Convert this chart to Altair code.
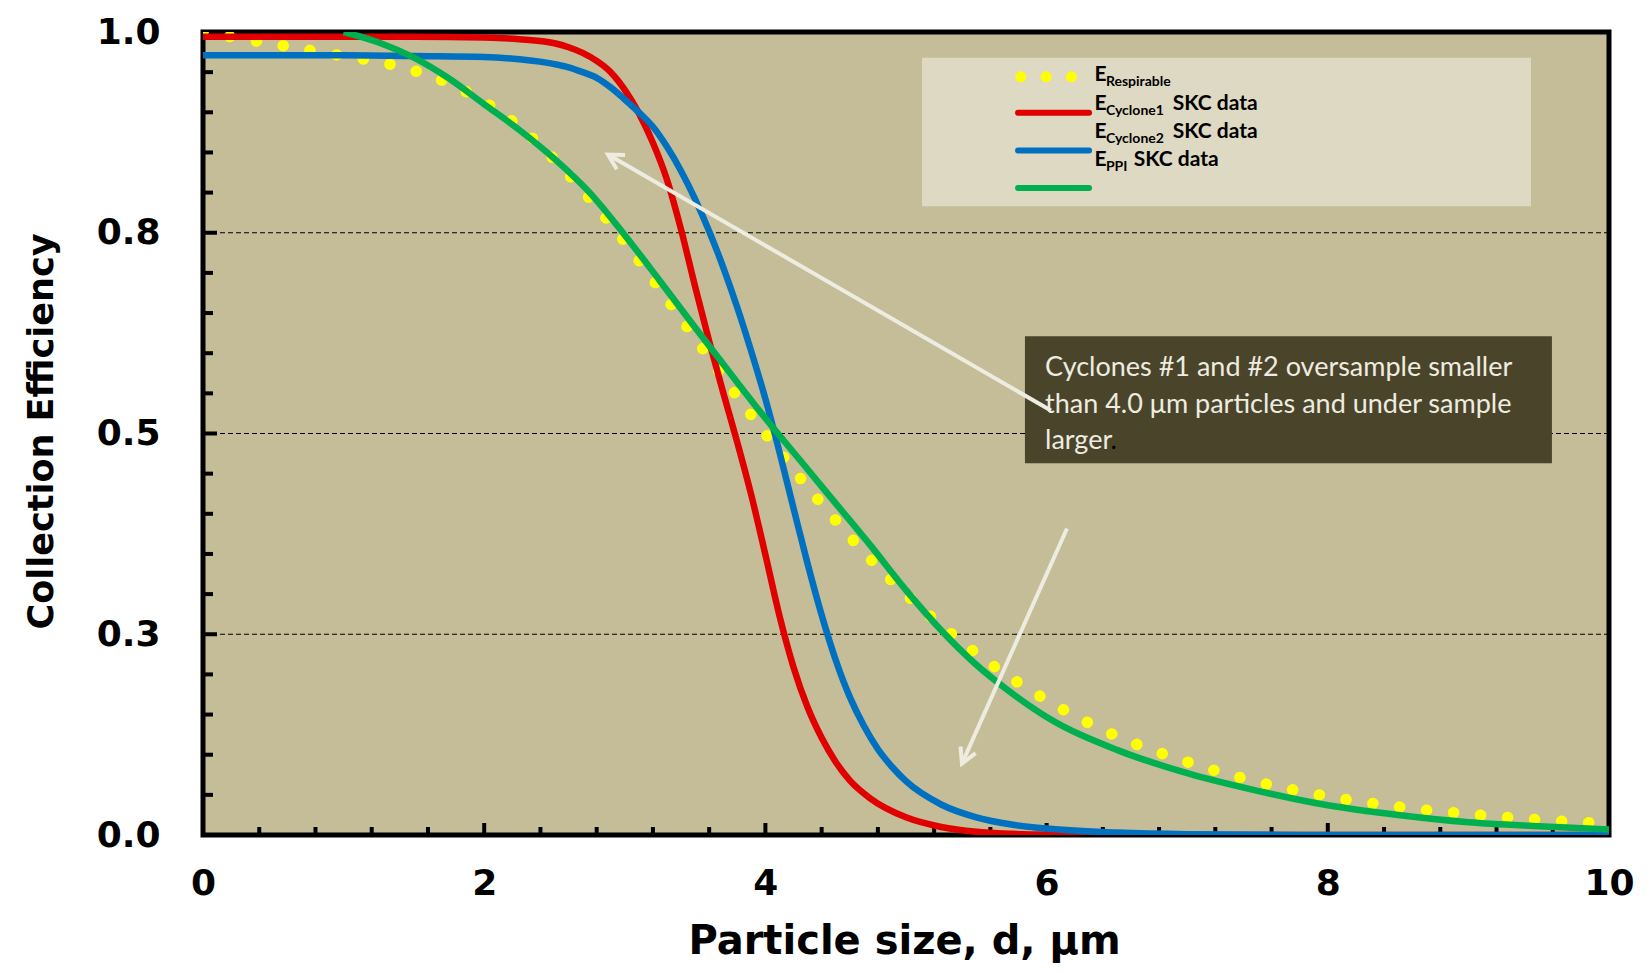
import altair as alt
import pandas as pd

# ---------------- data ----------------
resp_x = [0, 0.5, 1, 1.25, 1.5, 1.75, 2, 2.25, 2.5, 2.75, 3, 3.25, 3.5, 3.75, 4,
          4.25, 4.5, 4.75, 5, 5.5, 6, 6.5, 7, 7.5, 8, 8.5, 9, 9.5, 10]
resp_y = [1.0, 0.985, 0.970, 0.963, 0.952, 0.936, 0.913, 0.882, 0.841, 0.793, 0.739,
          0.680, 0.619, 0.558, 0.500, 0.444, 0.392, 0.343, 0.300, 0.226, 0.168, 0.123,
          0.091, 0.066, 0.048, 0.035, 0.026, 0.019, 0.014]

cyc1_x = [0, 1, 1.5, 2, 2.25, 2.5, 2.6, 2.7, 2.8, 2.9, 3.0, 3.1, 3.2, 3.3, 3.4, 3.5,
          3.6, 3.7, 3.8, 3.9, 4.0, 4.1, 4.2, 4.3, 4.4, 4.5, 4.6, 4.75, 5.0, 5.25, 5.5,
          5.75, 6, 7, 8, 10]
cyc1_y = [0.994, 0.994, 0.994, 0.993, 0.991, 0.986, 0.981, 0.974, 0.964, 0.950, 0.928,
          0.899, 0.862, 0.816, 0.754, 0.683, 0.615, 0.551, 0.489, 0.423, 0.349, 0.273,
          0.209, 0.159, 0.121, 0.091, 0.068, 0.045, 0.022, 0.010, 0.004, 0.0015, 0.0005,
          0, 0, 0]

cyc2_x = [0, 1, 1.5, 2, 2.25, 2.5, 2.6, 2.7, 2.8, 2.9, 3.0, 3.1, 3.2, 3.3, 3.4, 3.5,
          3.6, 3.7, 3.8, 3.9, 4.0, 4.1, 4.2, 4.3, 4.4, 4.5, 4.6, 4.7, 4.8, 4.9, 5.0,
          5.25, 5.5, 5.75, 6.0, 6.5, 7.0, 8.0, 10]
cyc2_y = [0.971, 0.971, 0.970, 0.969, 0.966, 0.960, 0.956, 0.950, 0.943, 0.931, 0.916,
          0.900, 0.882, 0.857, 0.827, 0.792, 0.752, 0.707, 0.657, 0.602, 0.543, 0.477,
          0.407, 0.338, 0.274, 0.218, 0.172, 0.136, 0.107, 0.085, 0.067, 0.038, 0.022,
          0.013, 0.008, 0.003, 0.001, 0, 0]

ppi_x = [1.0, 1.25, 1.5, 1.75, 2.0, 2.25, 2.5, 2.75, 3.0, 3.25, 3.5, 3.75, 4.0, 4.25,
         4.5, 4.75, 5.0, 5.25, 5.5, 5.75, 6.0, 6.5, 7.0, 7.5, 8.0, 8.5, 9.0, 9.5, 10]
ppi_y = [1.0, 0.987, 0.968, 0.942, 0.910, 0.878, 0.842, 0.800, 0.747, 0.690, 0.632,
         0.575, 0.519, 0.466, 0.413, 0.360, 0.305, 0.255, 0.212, 0.177, 0.147, 0.106,
         0.077, 0.055, 0.037, 0.025, 0.016, 0.011, 0.007]

x_labels = [0, 2, 4, 6, 8, 10]
y_labels = [0, 0.25, 0.5, 0.75, 1.0]
grid_y = [0.25, 0.5, 0.75]
x_major = [2, 4, 6, 8]
x_minor = [0.4, 0.8, 1.2, 1.6, 2.4, 2.8, 3.2, 3.6, 4.4, 4.8, 5.2, 5.6, 6.4, 6.8, 7.2,
           7.6, 8.4, 8.8, 9.2, 9.6]
y_major = [0.25, 0.5, 0.75]
y_minor = [0.05, 0.1, 0.15, 0.2, 0.3, 0.35, 0.4, 0.45, 0.55, 0.6, 0.65, 0.7, 0.8,
           0.85, 0.9, 0.95]

# legend (custom, in data units)
legend_box = {"x": [5.114], "x2": [9.445], "y": [0.968], "y2": [0.783]}
leg_dots = {"x": [5.816, 6.185], "y": [0.9442, 0.9442]}
leg_red = {"x": [5.797, 6.302], "y": [0.8993, 0.8993]}
leg_blue = {"x": [5.797, 6.302], "y": [0.8524, 0.8524]}
leg_green = {"x": [5.797, 6.302], "y": [0.8057, 0.8057]}
leg_E = {"x": [6.340] * 4, "y": [0.9385, 0.9025, 0.8677, 0.8330], "t": ["E"] * 4}
leg_sub = {"x": [6.422] * 4, "y": [0.9323, 0.8968, 0.8618, 0.8269],
           "t": ["Respirable", "Cyclone1", "Cyclone2", "PPI"]}
leg_tail = {"x": [6.897, 6.897, 6.619], "y": [0.9025, 0.8677, 0.8330],
            "t": ["SKC data", "SKC data", "SKC data"]}

# annotation
note_box = {"x": [5.846], "x2": [9.594], "y": [0.621], "y2": [0.463]}
note_text = {"x": [5.989] * 3, "y": [0.571, 0.526, 0.481],
             "t": ["Cyclones #1 and #2 oversample smaller",
                   "than 4.0 \u03bcm particles and under sample",
                   "larger"]}
note_dot = {"x": [6.455], "y": [0.481], "t": ["."]}
arrow1 = {"x": [6.031, 2.880], "y": [0.5286, 0.8474]}
arrow2 = {"x": [6.145, 5.398], "y": [0.3817, 0.0890]}
heads = {"x": [2.880, 5.398], "y": [0.8474, 0.0890], "a": [300, 204]}

# ---------------- chart ----------------
W, H = 1406, 803
xsc = alt.Scale(domain=[0, 10], nice=False, zero=False)
ysc = alt.Scale(domain=[0, 1], nice=False, zero=False)

AX_FONT = "DejaVu Sans"
x_axis = alt.Axis(values=x_labels, format="d", title="Particle size, d, \u03bcm",
                  grid=False, ticks=False, tickSize=0, domain=False,
                  labelFont=AX_FONT, labelFontSize=36, labelFontWeight="bold",
                  labelColor="black", labelPadding=31, labelFlush=False,
                  labelOverlap=False,
                  titleFont=AX_FONT, titleFontSize=40, titleFontWeight="bold",
                  titleColor="black", titleX=701, titleY=118,
                  titleBaseline="alphabetic", titleAlign="center")
y_axis = alt.Axis(values=y_labels, format=".1f", title="Collection Efficiency",
                  grid=False, ticks=False, tickSize=0, domain=False,
                  labelFont=AX_FONT, labelFontSize=36, labelFontWeight="bold",
                  labelColor="black", labelPadding=43, labelFlush=False,
                  labelOverlap=False,
                  titleFont=AX_FONT, titleFontSize=35, titleFontWeight="bold",
                  titleColor="black", titleX=-162, titleY=399, titleAngle=270,
                  titleBaseline="middle", titleAlign="center")

X = alt.X("x:Q", scale=xsc, axis=x_axis)
Y = alt.Y("y:Q", scale=ysc, axis=y_axis)


def df(d):
    return pd.DataFrame(d)


grid = alt.Chart(df({"y": grid_y})).mark_rule(
    color="black", strokeWidth=1.2, strokeDash=[5, 3]).encode(y=Y)

tx_major = alt.Chart(df({"x": x_major})).mark_rule(color="black", strokeWidth=4).encode(
    x=X, y=alt.value(H), y2=alt.value(H - 12))
tx_minor = alt.Chart(df({"x": x_minor})).mark_rule(color="black", strokeWidth=4).encode(
    x=X, y=alt.value(H), y2=alt.value(H - 8))
ty_major = alt.Chart(df({"y": y_major})).mark_rule(color="black", strokeWidth=4).encode(
    y=Y, x=alt.value(0), x2=alt.value(14))
ty_minor = alt.Chart(df({"y": y_minor})).mark_rule(color="black", strokeWidth=4).encode(
    y=Y, x=alt.value(0), x2=alt.value(10))

YELLOW = "#FFFF00"
RED = "#E00000"
BLUE = "#0070C0"
GREEN = "#00B050"

resp = alt.Chart(df({"x": resp_x, "y": resp_y})).mark_line(
    color=YELLOW, strokeWidth=11.5, strokeCap="round", strokeDash=[0.1, 27],
    interpolate="monotone", clip=True).encode(x=X, y=Y)
cyc1 = alt.Chart(df({"x": cyc1_x, "y": cyc1_y})).mark_line(
    color=RED, strokeWidth=6.5, interpolate="monotone", clip=True).encode(x=X, y=Y)
cyc2 = alt.Chart(df({"x": cyc2_x, "y": cyc2_y})).mark_line(
    color=BLUE, strokeWidth=6.5, interpolate="monotone", clip=True).encode(x=X, y=Y)
ppi = alt.Chart(df({"x": ppi_x, "y": ppi_y})).mark_line(
    color=GREEN, strokeWidth=6.5, interpolate="monotone", clip=True).encode(x=X, y=Y)

lbox = alt.Chart(df(legend_box)).mark_rect(color="#DDD9C3").encode(
    x=X, x2="x2:Q", y=Y, y2="y2:Q")
l_dots = alt.Chart(df(leg_dots)).mark_line(
    color=YELLOW, strokeWidth=11, strokeCap="round", strokeDash=[0.1, 25.2]).encode(x=X, y=Y)
l_red = alt.Chart(df(leg_red)).mark_line(color=RED, strokeWidth=6, strokeCap="round").encode(x=X, y=Y)
l_blue = alt.Chart(df(leg_blue)).mark_line(color=BLUE, strokeWidth=6, strokeCap="round").encode(x=X, y=Y)
l_green = alt.Chart(df(leg_green)).mark_line(color=GREEN, strokeWidth=6, strokeCap="round").encode(x=X, y=Y)

LFONT = "Lato"
l_E = alt.Chart(df(leg_E)).mark_text(
    align="left", baseline="alphabetic", font=LFONT, fontWeight="bold", fontSize=21,
    color="black").encode(x=X, y=Y, text="t:N")
l_sub = alt.Chart(df(leg_sub)).mark_text(
    align="left", baseline="alphabetic", font=LFONT, fontWeight="bold", fontSize=14,
    color="black").encode(x=X, y=Y, text="t:N")
l_tail = alt.Chart(df(leg_tail)).mark_text(
    align="left", baseline="alphabetic", font=LFONT, fontWeight="bold", fontSize=21,
    color="black").encode(x=X, y=Y, text="t:N")

nbox = alt.Chart(df(note_box)).mark_rect(color="#4A452A").encode(
    x=X, x2="x2:Q", y=Y, y2="y2:Q")
ntext = alt.Chart(df(note_text)).mark_text(
    align="left", baseline="alphabetic", font=LFONT, fontSize=27,
    color="#EEECE1").encode(x=X, y=Y, text="t:N")
ndot = alt.Chart(df(note_dot)).mark_text(
    align="left", baseline="alphabetic", font=LFONT, fontSize=27,
    color="black").encode(x=X, y=Y, text="t:N")

ARROW = "#EEECE1"
a1 = alt.Chart(df(arrow1)).mark_line(color=ARROW, strokeWidth=4).encode(x=X, y=Y)
a2 = alt.Chart(df(arrow2)).mark_line(color=ARROW, strokeWidth=4).encode(x=X, y=Y)
ah = alt.Chart(df(heads)).mark_point(
    shape="M -0.55 1 L 0 0 L 0.55 1", size=900, filled=False, stroke=ARROW,
    strokeWidth=4, opacity=1).encode(x=X, y=Y, angle=alt.Angle("a:Q", scale=None))

chart = alt.layer(
    grid, tx_major, tx_minor, ty_major, ty_minor,
    resp, cyc1, cyc2, ppi,
    lbox, l_dots, l_red, l_blue, l_green, l_E, l_sub, l_tail,
    nbox, ntext, ndot, a1, a2, ah,
).properties(
    width=W, height=H,
    autosize=alt.AutoSizeParams(type="none"),
    padding={"left": 195, "top": 24, "right": 30, "bottom": 131},
).configure_view(
    fill="#C4BD97", stroke="black", strokeWidth=5
)

chart.save("out.html", embed_options={"renderer": "svg", "actions": False})
